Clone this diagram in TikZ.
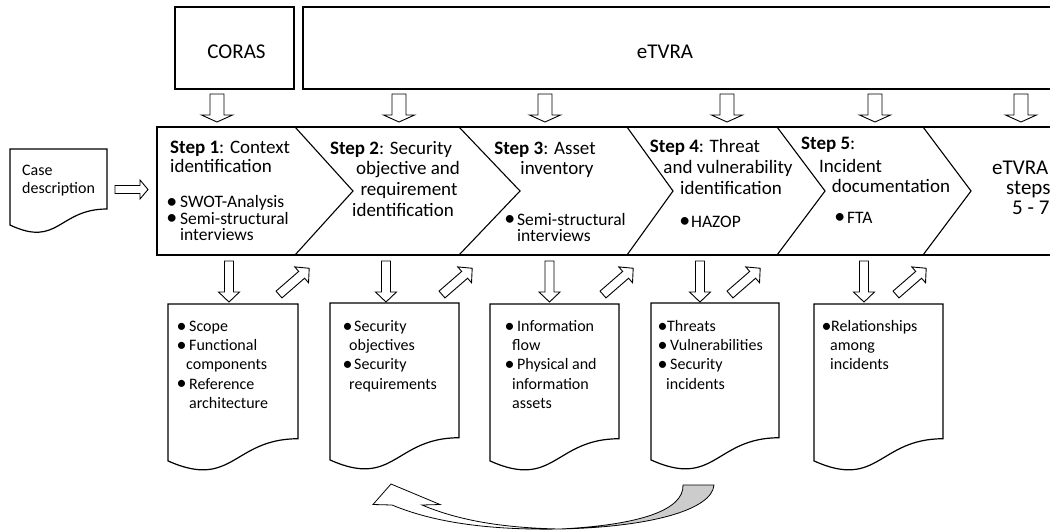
\documentclass[tikz,border=0pt]{standalone}
\usepackage{fontspec}
\usepackage{graphicx}
\setmainfont{Carlito}
\tikzset{
  box/.style={draw, line width=1.2pt, line join=miter},
  band/.style={draw, line width=1.1pt},
  barr/.style={draw, line width=0.9pt, fill=white, line join=miter},
  big/.style={inner sep=0, font=\fontsize{21}{24}\selectfont},
  rgt/.style={inner sep=0, font=\fontsize{21}{23}\selectfont},
  ttl/.style={inner sep=0, font=\fontsize{19}{21}\selectfont},
  blt/.style={inner sep=0, font=\fontsize{17.5}{19}\selectfont},
  dtx/.style={inner sep=0, font=\fontsize{16}{19}\selectfont},
  bw/.style={anchor=base west},
  bc/.style={anchor=base},
}
\newcommand\barrow[7]{%
  \draw[barr, shift={(#1,#2)}, rotate=#3] (0,-#5/2) -- (#4-#7,-#5/2) -- (#4-#7,-#6/2) -- (#4,0) -- (#4-#7,#6/2) -- (#4-#7,#5/2) -- (0,#5/2) -- cycle;}
\newcommand\docshape[4]{%
  \pgfmathsetmacro\dxr{#1+#3}\pgfmathsetmacro\dxm{#1+#3/2}%
  \pgfmathsetmacro\dyr{#2+0.802*#4}\pgfmathsetmacro\dyl{#2+0.934*#4}\pgfmathsetmacro\dyc{#2+1.107*#4}%
  \draw[box] (#1,#2) -- (\dxr,#2) -- (\dxr,\dyr) .. controls (\dxm,\dyr) and (\dxm,\dyc) .. (#1,\dyl) -- cycle;}
% bullet centred on the node's x, text starting #1 pt further right
\newcommand\bul[1]{\makebox[0pt][c]{\raisebox{-0.04em}{\scalebox{1.25}{•}}}\hspace*{#1pt}}
\begin{document}
\begin{tikzpicture}[x=1pt,y=-1pt]
\useasboundingbox (0,0) rectangle (1050,531);
\clip (0,0) rectangle (1050,531);
\fill[white] (0,0) rectangle (1050,531);

% top boxes
\draw[box] (175,7) rectangle (294,89);
\draw[box] (303,7) rectangle (1070,89);
\node[big, bc] (coras) at (236.5,58) {CORAS};
\node[big, bc] (etvra) at (665,58) {eTVRA};

% top arrows
\foreach \x in {217,399,545,727,875,1021} {\barrow{\x}{94}{-90}{28}{14}{31}{7}}

% step band
\draw[band] (1070,127) -- (157,127) -- (157,255) -- (1070,255);
\foreach \a/\b in {295/353,459/520,627/673,777/825,923/971} {\draw[band] (\a,127) -- (\b,191) -- (\a,255);}

% case description
\draw[box] (10,149) -- (107,149) -- (107,209) .. controls (58.5,209) and (58.5,248) .. (10,225) -- cycle;
\node[dtx, bw] (case1) at (22,175) {Case};
\node[dtx, bw] (case2) at (22,193.5) {description};
\barrow{115}{189.5}{0}{33}{8}{19}{8}

% step 1
\node[ttl, bw] (s1a) at (170,153.3) {\textbf{Step 1}: Context};
\node[ttl, bw] (s1b) at (170,172.7) {identification};
\node[blt, bw] (s1c) at (171.5,207.5) {\bul{8.5}SWOT-Analysis};
\node[blt, bw] (s1d) at (171.5,224.2) {\bul{8.5}Semi-structural};
\node[blt, bw] (s1e) at (180,240.9) {interviews};

% step 2
\node[ttl, bc] (s2a) at (391,154) {\textbf{Step 2}: Security};
\node[ttl, bc] (s2b) at (408,174) {objective and};
\node[ttl, bc] (s2c) at (409,195) {requirement};
\node[ttl, bc] (s2d) at (403,216) {identification};

% step 3
\node[ttl, bc] (s3a) at (545,154) {\textbf{Step 3}: Asset};
\node[ttl, bc] (s3b) at (557,174) {inventory};
\node[blt, bw] (s3c) at (509.5,225) {\bul{7.5}Semi-structural};
\node[blt, bw] (s3d) at (517,241.5) {interviews};

% step 4
\node[ttl, bc] (s4a) at (705,152) {\textbf{Step 4}: Threat};
\node[ttl, bc] (s4b) at (728,173) {and vulnerability};
\node[ttl, bc] (s4c) at (731,194) {identification};
\node[blt, bw] (s4d) at (684.5,227) {\bul{6.5}HAZOP};

% step 5
\node[ttl, bw] (s5a) at (801,149) {\textbf{Step 5}:};
\node[ttl, bw] (s5b) at (819,172) {Incident};
\node[ttl, bc] (s5c) at (891,192) {documentation};
\node[blt, bw] (s5d) at (839.5,223) {\bul{7.5}FTA};

% eTVRA steps 5-7
\node[rgt, bw] (r1) at (992,174) {eTVRA};
\node[rgt, bw] (r2) at (1006,194) {steps};
\node[rgt, bw] (r3) at (1012,214) {5 - 7};

% down arrows to documents
\foreach \x in {229,386,549.5,700,864} {\barrow{\x}{261}{-90}{41}{9}{21}{10}}
% diagonal arrows back to steps
\foreach \x in {279,442,603,730,896} {\barrow{\x}{294.5}{41}{40}{9}{21}{10}}

% documents
\docshape{168}{304}{130}{168}
\docshape{330}{303}{129}{168}
\docshape{490}{304}{129}{168}
\docshape{651}{303}{128}{168}
\docshape{814}{304}{129}{168}

% doc 1
\node[dtx, bw] (d1a) at (181.5,331.5) {\bul{7.5}Scope};
\node[dtx, bw] (d1b) at (181.5,350.7) {\bul{7.5}Functional};
\node[dtx, bw] (d1c) at (186,369.9) {components};
\node[dtx, bw] (d1d) at (181.5,389.1) {\bul{7.5}Reference};
\node[dtx, bw] (d1e) at (189,408.3) {architecture};
% doc 2
\node[dtx, bw] (d2a) at (347.5,331.5) {\bul{6.5}Security};
\node[dtx, bw] (d2b) at (349,350.7) {objectives};
\node[dtx, bw] (d2c) at (347.5,369.9) {\bul{6.5}Security};
\node[dtx, bw] (d2d) at (349,389.1) {requirements};
% doc 3
\node[dtx, bw] (d3a) at (509.5,331.5) {\bul{7.5}Information};
\node[dtx, bw] (d3b) at (512,350.7) {flow};
\node[dtx, bw] (d3c) at (509.5,369.9) {\bul{7.5}Physical and};
\node[dtx, bw] (d3d) at (512,389.1) {information};
\node[dtx, bw] (d3e) at (512,408.3) {assets};
% doc 4
\node[dtx, bw] (d4a) at (662.5,331.5) {\bul{4.5}Threats};
\node[dtx, bw] (d4b) at (662.5,350.7) {\bul{7.5}Vulnerabilities};
\node[dtx, bw] (d4c) at (662.5,369.9) {\bul{7.5}Security};
\node[dtx, bw] (d4d) at (666,389.1) {incidents};
% doc 5
\node[dtx, bw] (d5a) at (826.5,331.5) {\bul{4.5}Relationships};
\node[dtx, bw] (d5b) at (830,350.7) {among};
\node[dtx, bw] (d5c) at (830,369.9) {incidents};

% curved return arrow
\draw[line width=0.8pt, fill=white, line join=miter] (391,484) -- (440,504.5) -- (422,505) .. controls (460,521) and (505,528) .. (560,529) .. controls (500,530) and (440,525) .. (392,505) -- (373,504.5) -- cycle;
\draw[line width=0.8pt, fill=black!20] (560,529) .. controls (650,527) and (712,510) .. (714,485) -- (683,485) .. controls (684,510) and (640,525) .. (560,529) -- cycle;
\end{tikzpicture}
\end{document}
